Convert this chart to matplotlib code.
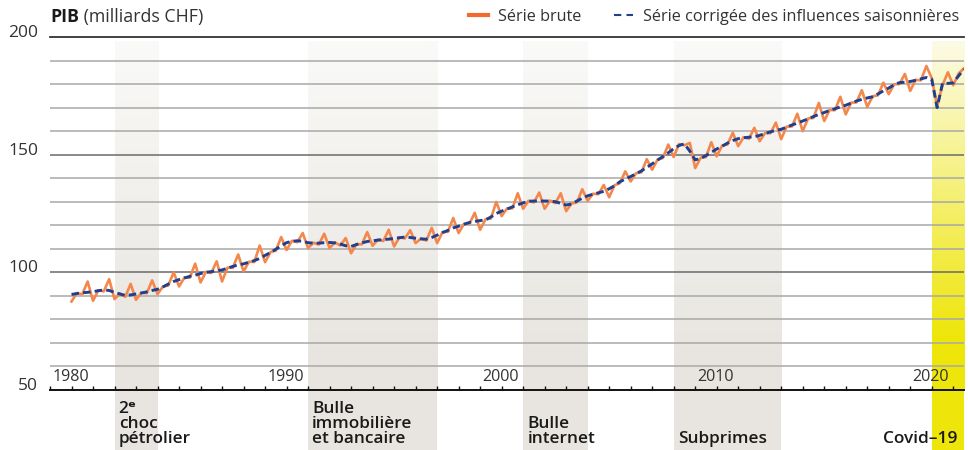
import matplotlib
matplotlib.use("Agg")
import matplotlib.pyplot as plt
import matplotlib.colors as mcolors
from matplotlib.lines import Line2D
from matplotlib.patches import Rectangle
import numpy as np
import pandas as pd

plt.rcParams['font.family'] = ['Open Sans', 'DejaVu Sans']

# PIB trimestriel, série corrigée des influences saisonnières (1980T1 - 2021T3)
sa_values = [
    90.6, 91.0, 91.3, 91.5,   # 1980
    91.8, 92.2, 92.5, 92.3,   # 1981
    91.5, 90.8, 90.2, 90.4,   # 1982
    90.8, 91.2, 91.7, 92.3,   # 1983
    92.8, 93.8, 95.0, 96.1,   # 1984
    96.9, 97.6, 98.3, 98.8,   # 1985
    99.5, 100.0, 100.3, 100.7,  # 1986
    101.0, 101.8, 102.5, 103.2,  # 1987
    103.6, 104.3, 105.0, 105.9,  # 1988
    107.2, 108.4, 109.8, 111.3,  # 1989
    112.6, 113.2, 113.4, 113.2,  # 1990
    112.6, 112.4, 112.4, 112.6,  # 1991
    112.7, 112.5, 112.0, 111.3,  # 1992
    111.0, 111.8, 112.5, 113.1,  # 1993
    113.4, 113.7, 113.9, 114.1,  # 1994
    114.4, 114.7, 115.0, 114.8,  # 1995
    114.5, 114.2, 114.1, 114.8,  # 1996
    115.8, 116.9, 117.8, 118.9,  # 1997
    119.6, 120.4, 121.2, 121.6,  # 1998
    122.0, 122.3, 123.5, 125.0,  # 1999
    126.0, 126.9, 127.8, 128.7,  # 2000
    129.5, 130.2, 130.3, 130.3,  # 2001
    130.3, 130.3, 130.0, 129.3,  # 2002
    128.6, 129.0, 130.3, 131.5,  # 2003
    132.5, 133.2, 133.8, 134.4,  # 2004
    135.5, 136.8, 138.5, 139.6,  # 2005
    140.7, 141.9, 143.1, 144.6,  # 2006
    146.1, 147.7, 149.2, 150.8,  # 2007
    152.5, 153.9, 154.6, 151.5,  # 2008
    147.8, 148.4, 149.6, 151.0,  # 2009
    152.4, 153.6, 154.9, 156.0,  # 2010
    156.8, 157.2, 157.4, 157.6,  # 2011
    158.2, 159.0, 159.7, 160.3,  # 2012
    160.8, 161.7, 162.6, 163.4,  # 2013
    164.3, 165.2, 166.2, 167.1,  # 2014
    167.9, 168.8, 169.5, 170.3,  # 2015
    171.0, 171.9, 172.8, 173.5,  # 2016
    174.1, 174.6, 175.8, 177.1,  # 2017
    178.3, 179.7, 180.6, 180.8,  # 2018
    181.1, 181.6, 182.2, 182.8,  # 2019
    182.0, 170.0, 180.3, 180.3,  # 2020
    180.5, 183.5, 186.3,         # 2021
]

# série brute
raw_values = [
    87.6, 91.2, 90.7, 96.1,
    87.9, 92.4, 91.9, 97.1,
    88.6, 91.0, 89.6, 95.1,
    88.3, 91.4, 91.1, 96.6,
    90.7, 94.0, 94.4, 100.0,
    94.0, 97.8, 97.7, 103.7,
    95.7, 100.2, 99.7, 104.7,
    96.1, 102.0, 101.9, 107.6,
    100.4, 104.5, 104.4, 111.4,
    104.3, 108.6, 109.2, 115.0,
    109.5, 113.4, 112.8, 116.7,
    110.3, 112.6, 111.8, 116.4,
    110.3, 112.7, 111.4, 114.6,
    108.1, 112.0, 111.9, 117.1,
    111.3, 113.9, 113.3, 118.1,
    111.0, 114.9, 114.4, 117.9,
    112.4, 114.4, 113.5, 118.9,
    112.4, 117.1, 117.2, 123.1,
    116.7, 120.6, 120.6, 125.3,
    118.1, 122.5, 122.9, 129.9,
    123.9, 127.1, 127.2, 133.6,
    127.0, 130.4, 129.7, 133.9,
    127.0, 130.5, 129.4, 133.6,
    126.0, 129.2, 129.7, 135.3,
    130.4, 133.4, 133.2, 137.1,
    131.9, 137.0, 137.9, 142.9,
    138.6, 142.1, 142.5, 148.1,
    143.6, 147.9, 148.6, 154.3,
    149.0, 154.5, 154.0, 155.0,
    144.3, 148.6, 149.0, 155.3,
    149.3, 153.8, 154.3, 159.3,
    153.6, 157.4, 156.8, 161.4,
    155.7, 159.2, 159.1, 163.6,
    156.6, 161.9, 162.0, 167.4,
    160.0, 165.4, 165.6, 172.0,
    164.3, 169.0, 168.9, 174.6,
    167.1, 172.1, 172.2, 177.4,
    170.3, 174.8, 175.2, 180.6,
    175.7, 179.9, 180.0, 184.3,
    177.1, 181.8, 181.6, 187.7,
    182.5, 170.6, 179.5, 185.0,
    179.5, 184.5, 186.7,
]

period_labels = ['2ᵉ\nchoc\npétrolier', 'Bulle\nimmobilière\net bancaire',
                 'Bulle\ninternet', 'Subprimes', 'Covid–19']
period_starts = [1982, 1991, 2001, 2008, 2020]
period_ends = [1984, 1997, 2004, 2013, 2021.5]
decade_labels = ['1980', '1990', '2000', '2010', '2020']
y_ticks = [50, 100, 150, 200]

quarters = pd.period_range('1980Q1', periods=len(sa_values), freq='Q')
x = np.asarray(quarters.year + (quarters.quarter - 1) / 4, dtype=float)

W, H = 968, 450
fig = plt.figure(figsize=(W / 100, H / 100), dpi=100)
ax = fig.add_axes([50 / W, 60 / H, 914 / W, 353 / H])

# bandes des crises : pleines en bas, s'éclaircissent vers le haut
def gradient(c_bottom, c_top, start, n=300):
    b = np.array(mcolors.to_rgb(c_bottom))
    t = np.array(mcolors.to_rgb(c_top))
    v = np.linspace(50, 198, n)
    f = np.clip((v - start) / (198 - start), 0, 1)[:, None]
    return (b * (1 - f) + t * f)[:, None, :]

for i, (x0, x1) in enumerate(zip(period_starts, period_ends)):
    covid = i == len(period_starts) - 1
    c_bot = '#EEE60A' if covid else '#E8E5E0'
    c_top = '#FCFBE6' if covid else '#FAFAF8'
    ax.imshow(gradient(c_bot, c_top, 72 if covid else 62), extent=(x0, x1, 50, 198),
              origin='lower', aspect='auto', zorder=0, interpolation='bilinear')
    ax.add_patch(Rectangle((x0, -0.175), x1 - x0, 0.175,
                           transform=ax.get_xaxis_transform(), clip_on=False,
                           facecolor=c_bot, edgecolor='none', zorder=0))
    ax.annotate(period_labels[i], xy=(x1 if covid else x0, -0.162),
                xycoords=ax.get_xaxis_transform(),
                xytext=(-5 if covid else 3, 0), textcoords='offset points',
                ha='right' if covid else 'left', va='bottom',
                fontsize=12.4, fontweight='semibold', color='#1a1a1a',
                linespacing=0.93, annotation_clip=False)

# lignes horizontales
for v in range(60, 200, 10):
    ax.axhline(v, color='#6a6a6a' if v in (100, 150) else '#a8a8a8',
               lw=1.1, zorder=1)
ax.axhline(200, color='#333333', lw=1.3, zorder=1, clip_on=False)

ax.plot(x, raw_values, color='#F4874B', lw=1.9, zorder=3)
ax.plot(x, sa_values, color='#1F3F8F', lw=2.1, dashes=(2.6, 1.4), zorder=4)

ax.set_xlim(1979, 2021.5)
ax.set_ylim(50, 200)

for s in ['top', 'left', 'right']:
    ax.spines[s].set_visible(False)
ax.spines['bottom'].set_linewidth(1.4)
ax.spines['bottom'].set_color('#111111')

ax.set_xticks(np.arange(1979, 2022))
ax.tick_params(axis='x', direction='in', length=3, width=1, labelbottom=False,
               color='#111111')
for lab, yr in zip(decade_labels, range(1979, 2022, 10)):
    ax.annotate(lab, xy=(yr, 50), xytext=(1.5, 3.5), textcoords='offset points',
                ha='left', va='bottom', fontsize=11.6, color='#333333')

ax.set_yticks(y_ticks)
ax.set_yticklabels([str(v) for v in y_ticks])
ax.tick_params(axis='y', length=0, pad=8.5, labelsize=12.5, labelcolor='#333333')
for lbl in ax.get_yticklabels():
    lbl.set_va('baseline')

# titre
t1 = fig.text(50 / W, 1 - 17 / H, 'PIB', fontweight='bold', fontsize=12.8,
              va='center', color='#1a1a1a')
ax.annotate(' (milliards CHF)', xy=(1, 0.5), xycoords=t1, va='center',
            ha='left', fontsize=12.8, color='#333333')

handles = [Line2D([], [], color='#F26A2E', lw=3),
           Line2D([], [], color='#1F3F8F', lw=1.5, dashes=(3.5, 2.5))]
fig.legend(handles, ['Série brute', 'Série corrigée des influences saisonnières'],
           ncol=2, frameon=False, loc='center right',
           bbox_to_anchor=(1.006, 1 - 17 / H), fontsize=11.7,
           handlelength=1.2, handletextpad=0.6, columnspacing=2.0,
           labelcolor='#333333')

fig.savefig('out.png', dpi=100)
